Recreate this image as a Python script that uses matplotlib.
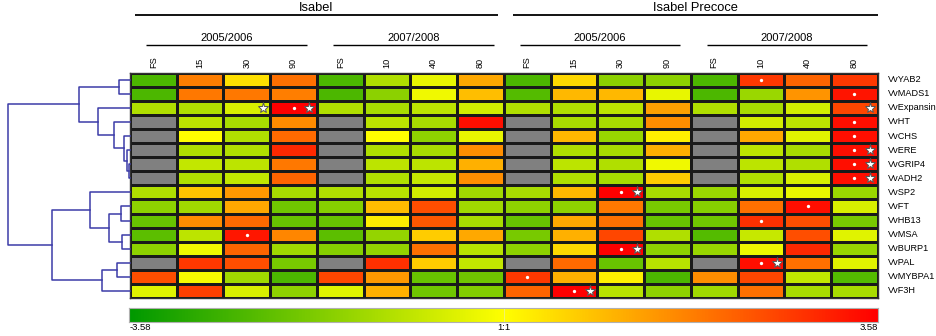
import numpy as np
import matplotlib
matplotlib.use("Agg")
import matplotlib.pyplot as plt
from matplotlib.colors import LinearSegmentedColormap

plt.rcParams["font.family"] = ["Liberation Sans", "DejaVu Sans"]

# -----------------------------
# Daten
# -----------------------------
nan = np.nan

genes = ["VvYAB2", "VvMADS1", "VvExpansin", "VvHT", "VvCHS", "VvERE", "VvGRIP4", "VvADH2",
         "VvSP2", "VvFT", "VvHB13", "VvMSA", "VvBURP1", "VvPAL", "VvMYBPA1", "VvF3H"]
col_labels = ["FS", "15", "30", "90", "FS", "10", "40", "80",
              "FS", "15", "30", "90", "FS", "10", "40", "80"]
cultivars = ["Isabel", "Isabel Precoce"]
seasons = ["2005/2006", "2007/2008"]

vmin, vmax = -3.58, 3.58

yab2 = [-2.51, 1.79, 0.43, 2.00, -2.51, -1.11, -0.32, 1.22, -2.51, 0.54, -1.61, -1.61, -2.51, 2.79, 2.18, 2.79]
mads1 = [-2.51, 1.90, 1.90, 1.79, -2.51, -1.61, -0.21, 0.90, -2.40, 1.00, 1.00, -0.32, -2.51, -1.40, 1.50, 3.30]
expansin = [-1.11, -1.11, -0.54, 3.58, -1.11, -1.22, -0.93, -0.64, -1.11, -1.11, -0.93, 1.32, -1.11, -1.22, -0.64, 2.58]
ht = [nan, -0.93, -1.22, 1.61, nan, -0.93, -1.22, 3.37, nan, -1.22, -1.22, 1.58, nan, -0.64, -0.93, 3.37]
chs = [nan, 0.00, -1.11, 2.08, nan, 0.00, -1.58, -0.32, nan, 1.00, -1.43, 0.21, nan, 1.22, -0.43, 3.37]
ere = [nan, -1.11, -1.11, 3.01, nan, -1.11, -1.22, 1.58, nan, -1.11, -1.22, 1.11, nan, -0.93, -1.22, 3.37]
grip4 = [nan, -0.86, -0.93, 1.90, nan, -0.93, -0.93, 1.11, nan, -0.93, -1.11, -0.21, nan, -0.93, -1.11, 3.37]
adh2 = [nan, -1.11, -0.86, 2.18, nan, -1.11, -0.79, 1.58, nan, -1.11, -1.22, 0.72, nan, -1.11, -0.54, 3.37]
sp2 = [-1.11, 0.82, 1.43, -1.22, -1.11, -1.00, -0.64, -1.32, -1.22, 1.00, 3.58, -1.22, -1.40, -0.54, -0.32, -1.40]
ft = [-1.58, -1.32, 1.22, -2.00, -1.68, 0.94, 2.47, -1.32, -1.58, -1.58, 1.90, -1.90, -1.68, 2.00, 3.37, -0.54]
hb13 = [-2.11, 1.61, 2.08, -2.11, -2.11, 0.25, 2.33, -1.22, -2.11, 1.22, 2.00, -2.11, -2.00, 2.90, 2.47, -1.90]
msa = [-2.29, -0.93, 3.26, 1.68, -2.29, -1.50, 0.72, 1.22, -1.90, 1.11, 2.58, -1.11, -2.40, -0.79, 2.47, -0.43]
burp1 = [-1.58, -0.21, 2.18, -1.32, -1.68, -1.50, 2.00, -1.00, -1.58, 0.54, 3.58, -1.58, -1.43, -0.25, 3.00, -1.43]
pal = [nan, 2.79, 2.47, -1.90, nan, 2.90, 0.72, -0.86, nan, 2.08, -2.11, -1.00, nan, 3.37, 2.00, -0.43]
mybpa1 = [2.47, -0.10, -1.32, -2.51, 2.58, 1.43, -2.11, -2.00, 2.79, 1.11, 0.20, -2.51, 1.58, 2.58, -0.86, -2.40]
f3h = [-0.43, 2.68, -0.54, -1.58, -0.43, 1.11, -2.00, -1.75, 2.18, 3.58, -1.00, -1.58, -1.32, 2.00, -1.22, -1.22]

expr = np.array([yab2, mads1, expansin, ht, chs, ere, grip4, adh2,
                 sp2, ft, hb13, msa, burp1, pal, mybpa1, f3h])

# signifikante Zellen (Zeile, Spalte)
dots = [(0, 13), (1, 15), (2, 3), (3, 15), (4, 15), (5, 15), (6, 15), (7, 15),
        (8, 10), (9, 14), (10, 13), (11, 2), (12, 10), (13, 13), (14, 8), (15, 9)]
stars = [(2, 2), (2, 3), (2, 15), (5, 15), (6, 15), (7, 15), (8, 10),
         (12, 10), (13, 13), (15, 9)]

# Dendrogramm: (linker Knoten, rechter Knoten, Höhe), Blätter 0..15, neue Knoten ab 16
merges = [(6, 7, 0.012), (5, 16, 0.022), (4, 17, 0.049), (3, 18, 0.129),
          (2, 19, 0.265), (0, 1, 0.088), (21, 20, 0.419),
          (11, 12, 0.063), (9, 10, 0.076), (24, 23, 0.173), (8, 25, 0.329),
          (13, 14, 0.104), (27, 15, 0.228), (26, 28, 0.643), (22, 29, 1.0)]

# -----------------------------
# Plot
# -----------------------------
W, H = 937, 336
fig = plt.figure(figsize=(W / 100, H / 100), dpi=100)

def px_axes(x0, y0, x1, y1):
    return fig.add_axes([x0 / W, 1 - y1 / H, (x1 - x0) / W, (y1 - y0) / H])

cmap = LinearSegmentedColormap.from_list("gyr", ["#009900", "#ffff00", "#ff0000"])
cmap.set_bad("#808080")

ax = px_axes(130, 72.7, 877.7, 298)
n_rows, n_cols = expr.shape
ax.pcolormesh(np.arange(n_cols + 1), np.arange(n_rows + 1), np.ma.masked_invalid(expr),
              cmap=cmap, vmin=vmin, vmax=vmax, edgecolors="#1a1a1a", linewidth=0.9)
ax.set_xlim(0, n_cols)
ax.set_ylim(n_rows, 0)
ax.set_xticks([])
ax.set_yticks([])
for s in ax.spines.values():
    s.set_color("#333333")
    s.set_linewidth(1.0)

for r, c in dots:
    ax.plot(c + 0.5, r + 0.5, "o", ms=2.4, color="white", mec="none")
for r, c in stars:
    ax.plot(c + 0.84, r + 0.5, "*", ms=8, mfc="white", mec="#555555", mew=0.7)

# Zeilen- und Spaltenbeschriftung
for i, g in enumerate(genes):
    ax.text(n_cols + 0.22, i + 0.5, g, ha="left", va="center", fontsize=6.6, clip_on=False)
for j, lab in enumerate(col_labels):
    ax.text(j + 0.5, -0.3, lab, rotation=90, ha="center", va="bottom", fontsize=6.6, clip_on=False)

# Kopfzeilen
for k, name in enumerate(cultivars):
    x0, x1 = (0.1, 7.87) if k == 0 else (8.2, 16.0)
    ax.plot([x0, x1], [-4.1, -4.1], color="black", lw=1.3, clip_on=False, solid_capstyle="butt")
    ax.text((x0 + x1) / 2, -4.62, name, ha="center", va="center", fontsize=9.3, clip_on=False)
    for m, season in enumerate(seasons):
        base = 8 * k + 4 * m
        sx0, sx1 = base + 0.34, base + 3.78
        ax.plot([sx0, sx1], [-1.97, -1.97], color="black", lw=1.0, clip_on=False, solid_capstyle="butt")
        ax.text((sx0 + sx1) / 2, -2.44, season, ha="center", va="center", fontsize=8, clip_on=False)

# Dendrogramm
dax = px_axes(8.3, 72.7, 130, 298)
dax.set_ylim(n_rows, 0)
dax.set_xlim(1.0, 0.0)
dax.axis("off")
pos = {i: (i + 0.5, 0.0) for i in range(n_rows)}
for k, (a, b, h) in enumerate(merges):
    ya, ha = pos[a]
    yb, hb = pos[b]
    dax.plot([ha, h, h, hb], [ya, ya, yb, yb], color="#3c3ca8", lw=1.1, clip_on=False)
    pos[n_rows + k] = ((ya + yb) / 2, h)

# Farbskala
cax = px_axes(129.3, 307.7, 877.7, 321.7)
grad = np.linspace(vmin, vmax, 512).reshape(1, -1)
cax.imshow(grad, aspect="auto", cmap=cmap, vmin=vmin, vmax=vmax, extent=[vmin, vmax, 0, 1])
cax.axvline(0, color="#f0f080", lw=0.6)
cax.set_xticks([])
cax.set_yticks([])
for s in cax.spines.values():
    s.set_color("#b0b0b0")
    s.set_linewidth(0.8)
fig.text(129.3 / W, 1 - 328 / H, "-3.58", ha="left", va="center", fontsize=6.8)
fig.text(503.5 / W, 1 - 328 / H, "1:1", ha="center", va="center", fontsize=6.8)
fig.text(877.7 / W, 1 - 328 / H, "3.58", ha="right", va="center", fontsize=6.8)

fig.savefig("out.png", dpi=100)
